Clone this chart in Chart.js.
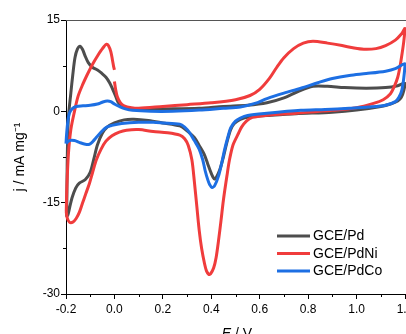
<!DOCTYPE html>
<html>
<head>
<meta charset="utf-8">
<script src="https://cdn.jsdelivr.net/npm/chart.js@4"></script>
<style>
  html, body { margin: 0; padding: 0; overflow: hidden; background: #fff; }
  canvas { display: block; }
</style>
</head>
<body>
<canvas id="cv" width="440" height="334"></canvas>
<script>
// series names and colours
const seriesNames = ['GCE/Pd', 'GCE/PdNi', 'GCE/PdCo'];
const seriesColors = ['#4d4d4d', '#f03c3c', '#1d6fe3'];

// GCE/Pd : potential (V) and current density (mA mg-1), one full cycle
const pdE = [-0.197, -0.196, -0.194, -0.19, -0.18, -0.172, -0.163, -0.153, -0.142, -0.132, -0.122, -0.108, -0.09, -0.07, -0.054, -0.035, -0.02, -0.008, 0.005, 0.015, 0.03, 0.05, 0.1, 0.2, 0.35, 0.45, 0.55, 0.63, 0.7, 0.76, 0.82, 0.88, 0.95, 1.04, 1.12, 1.17, 1.2,
  1.195, 1.185, 1.17, 1.14, 1.1, 1.0, 0.9, 0.75, 0.63, 0.56, 0.52, 0.495, 0.48, 0.465, 0.45, 0.435, 0.42, 0.412, 0.40, 0.385, 0.37, 0.35, 0.33, 0.30, 0.27, 0.2, 0.14, 0.08, 0.04, 0.0, -0.03, -0.05, -0.07, -0.085, -0.10, -0.12, -0.145, -0.16, -0.175, -0.185, -0.192, -0.197];
const pdJ = [-17.3, -12, -6, -1, 3, 6, 8.8, 10.2, 10.7, 10.2, 9.2, 8.0, 7.2, 6.8, 6.3, 5.6, 4.7, 3.7, 2.5, 1.5, 0.9, 0.6, 0.35, 0.4, 0.5, 0.8, 1.0, 1.4, 2.2, 3.3, 4.1, 4.1, 3.9, 3.8, 3.9, 4.2, 4.6,
  3.4, 2.3, 1.7, 1.2, 0.8, 0.2, -0.15, -0.4, -0.7, -0.9, -1.3, -2.0, -3.0, -5, -7.5, -9.6, -10.9, -11.1, -10.2, -8.6, -7, -5.6, -4.3, -3.2, -2.4, -1.9, -1.5, -1.3, -1.4, -1.9, -2.6, -3.6, -5.5, -7.8, -10, -11.2, -11.8, -12.6, -14.2, -15.8, -17, -17.3];

// GCE/PdNi (null marks the break in the trace near 0 V)
const pdniE = [-0.199, -0.196, -0.19, -0.18, -0.165, -0.15, -0.13, -0.115, -0.1, -0.085, -0.07, -0.055, -0.042, -0.033, -0.025, -0.015, -0.008, -0.003, 0.0, 0.0,
  0.0, 0.005, 0.012, 0.025, 0.04, 0.07, 0.1, 0.2, 0.3, 0.4, 0.5, 0.56, 0.6, 0.64, 0.67, 0.7, 0.74, 0.78, 0.82, 0.88, 0.94, 0.99, 1.03, 1.08, 1.12, 1.16, 1.185, 1.2,
  1.195, 1.188, 1.18, 1.17, 1.155, 1.14, 1.11, 1.07, 1.0, 0.9, 0.75, 0.63, 0.57, 0.545, 0.525, 0.51, 0.49, 0.475, 0.465, 0.45, 0.44, 0.43, 0.42, 0.41, 0.397, 0.39, 0.38, 0.372, 0.36, 0.35, 0.34, 0.33, 0.32, 0.305, 0.29, 0.27, 0.22, 0.16, 0.1, 0.05, 0.02, -0.01, -0.035, -0.055, -0.075, -0.09, -0.103, -0.118, -0.132, -0.145, -0.158, -0.172, -0.186, -0.195, -0.199];
const pdniJ = [-16.5, -12, -7, -3, 0, 2.5, 4.5, 5.8, 7, 8.1, 9.1, 10, 10.7, 11.0, 10.8, 9.8, 8.4, 7.3, 6.8, null,
  4.9, 3.6, 2.4, 1.4, 0.9, 0.6, 0.5, 0.8, 1.1, 1.4, 1.9, 2.6, 3.6, 5.4, 7.2, 8.8, 10.3, 11.2, 11.5, 11.2, 10.8, 10.4, 10.2, 10.3, 10.8, 11.7, 12.7, 13.6,
  11.5, 9.5, 7.5, 5.6, 4, 2.9, 1.9, 1.3, 0.6, 0.16, -0.3, -0.66, -1.0, -1.6, -2.6, -3.8, -5.5, -8, -10.5, -14.6, -18, -21.2, -24, -25.7, -26.7, -26.8, -26.2, -25, -22.5, -19.5, -15.5, -11.5, -8, -5.6, -4.5, -3.9, -3.5, -3.3, -3.0, -3.1, -3.4, -4, -4.9, -6.2, -8, -10, -11.8, -13.5, -15.1, -16.6, -17.6, -18.2, -18.2, -17.5, -16.5];

// GCE/PdCo
const pdcoE = [-0.2, -0.197, -0.192, -0.186, -0.175, -0.157, -0.13, -0.10, -0.07, -0.05, -0.03, -0.015, 0.0, 0.02, 0.045, 0.075, 0.15, 0.24, 0.35, 0.45, 0.52, 0.58, 0.63, 0.7, 0.77, 0.84, 0.9, 0.97, 1.04, 1.12, 1.16, 1.2,
  1.195, 1.187, 1.175, 1.16, 1.12, 1.05, 0.97, 0.87, 0.77, 0.63, 0.55, 0.52, 0.5, 0.48, 0.468, 0.455, 0.443, 0.43, 0.414, 0.403, 0.393, 0.386, 0.375, 0.365, 0.35, 0.33, 0.31, 0.29, 0.27, 0.2, 0.16, 0.1, 0.03, -0.01, -0.033, -0.055, -0.075, -0.09, -0.103, -0.12, -0.145, -0.165, -0.186, -0.2];
const pdcoJ = [-5.3, -3.5, -1.5, -0.3, 0.4, 0.8, 0.9, 1.0, 1.2, 1.5, 1.7, 1.6, 1.2, 0.8, 0.4, 0.16, 0.0, 0.0, 0.2, 0.5, 0.7, 1.3, 2.1, 3.0, 3.8, 4.7, 5.4, 5.9, 6.2, 6.6, 7.0, 7.8,
  5.5, 3.5, 2.3, 1.6, 1.0, 0.7, 0.5, 0.3, 0.16, -0.33, -0.7, -1.1, -1.6, -2.7, -4.3, -6.3, -8.5, -10.6, -12.2, -12.5, -12, -11.3, -9.8, -8, -6.2, -4.8, -3.5, -2.6, -2.1, -1.9, -1.8, -1.8, -2.0, -2.3, -2.6, -3.4, -4.3, -5.0, -5.4, -5.4, -5.1, -4.8, -4.8, -5.3];

// axis ticks
const xMajor = [-0.2, 0.0, 0.2, 0.4, 0.6, 0.8, 1.0, 1.2];
const xMinor = [-0.1, 0.1, 0.3, 0.5, 0.7, 0.9, 1.1];
const yMajor = [-30, -15, 0, 15];
const yMinor = [-22.5, -7.5, 7.5];

const toPoints = (xs, ys) => xs.map((x, i) => ({ x: x, y: ys[i] }));
const seriesData = [toPoints(pdE, pdJ), toPoints(pdniE, pdniJ), toPoints(pdcoE, pdcoJ)];

const FONT = '"Liberation Sans", Arial, sans-serif';

// minor ticks, top frame line, x title and legend
const extras = {
  id: 'extras',
  afterDraw(chart) {
    const ctx = chart.ctx;
    const a = chart.chartArea;
    const xs = chart.scales.x, ys = chart.scales.y;
    ctx.save();
    ctx.strokeStyle = '#000';
    ctx.lineWidth = 1;
    ctx.beginPath();
    xMinor.forEach(v => {
      const px = Math.round(xs.getPixelForValue(v)) + 0.5;
      ctx.moveTo(px, a.bottom); ctx.lineTo(px, a.bottom + 3);
    });
    yMinor.forEach(v => {
      const py = Math.round(ys.getPixelForValue(v)) + 0.5;
      ctx.moveTo(a.left - 3, py); ctx.lineTo(a.left, py);
    });
    ctx.stroke();

    ctx.strokeStyle = '#555';
    ctx.beginPath();
    ctx.moveTo(a.left, Math.round(a.top) + 0.5);
    ctx.lineTo(chart.width, Math.round(a.top) + 0.5);
    ctx.stroke();

    // x title: italic E
    ctx.fillStyle = '#000';
    ctx.textBaseline = 'alphabetic';
    ctx.font = 'italic 14px ' + FONT;
    const wE = ctx.measureText('E').width;
    ctx.font = '14px ' + FONT;
    const wR = ctx.measureText(' / V').width;
    const x0 = 237 - (wE + wR) / 2;
    ctx.font = 'italic 14px ' + FONT;
    ctx.textAlign = 'left';
    ctx.fillText('E', x0, 338);
    ctx.font = '14px ' + FONT;
    ctx.fillText(' / V', x0 + wE, 338);

    // legend
    ctx.font = '14px ' + FONT;
    ctx.textBaseline = 'middle';
    ctx.lineWidth = 3;
    seriesNames.forEach((name, i) => {
      const y = 236 + i * 17.5;
      ctx.strokeStyle = seriesColors[i];
      ctx.beginPath();
      ctx.moveTo(277, y); ctx.lineTo(310, y);
      ctx.stroke();
      ctx.fillStyle = '#000';
      ctx.fillText(name, 313, y + 0.5);
    });
    ctx.restore();
  }
};

new Chart(document.getElementById('cv'), {
  type: 'scatter',
  data: {
    datasets: seriesNames.map((name, i) => ({
      label: name,
      data: seriesData[i],
      showLine: true,
      borderColor: seriesColors[i],
      backgroundColor: seriesColors[i],
      borderWidth: 3,
      pointRadius: 0,
      tension: 0.3,
      spanGaps: false,
      clip: false,
      order: 2 - i
    }))
  },
  options: {
    responsive: false,
    animation: false,
    devicePixelRatio: 1,
    layout: { padding: { left: 0, top: 20, right: 35, bottom: 0 } },
    plugins: { legend: { display: false }, tooltip: { enabled: false } },
    scales: {
      x: {
        type: 'linear',
        min: -0.2, max: 1.2,
        afterBuildTicks: s => { s.ticks = xMajor.map(v => ({ value: v })); },
        afterFit: s => { s.height = 40; },
        ticks: {
          callback: v => v.toFixed(1),
          font: { family: FONT, size: 12 }, color: '#000',
          padding: 3, maxRotation: 0, autoSkip: false
        },
        grid: { drawOnChartArea: false, tickLength: 5, color: '#000' },
        border: { display: true, color: '#000', width: 1 }
      },
      y: {
        type: 'linear',
        min: -30, max: 15,
        afterBuildTicks: s => { s.ticks = yMajor.map(v => ({ value: v })); },
        afterFit: s => { s.width = 66; },
        ticks: {
          callback: v => String(v),
          font: { family: FONT, size: 12 }, color: '#000',
          padding: 1, autoSkip: false
        },
        grid: { drawOnChartArea: false, tickLength: 5, color: '#000' },
        border: { display: true, color: '#000', width: 1 },
        title: {
          display: true,
          text: 'j / mA mg⁻¹',
          font: { family: FONT, size: 14 }, color: '#000',
          padding: { top: 12, bottom: 0 }
        }
      }
    }
  },
  plugins: [extras]
});
</script>
</body>
</html>
